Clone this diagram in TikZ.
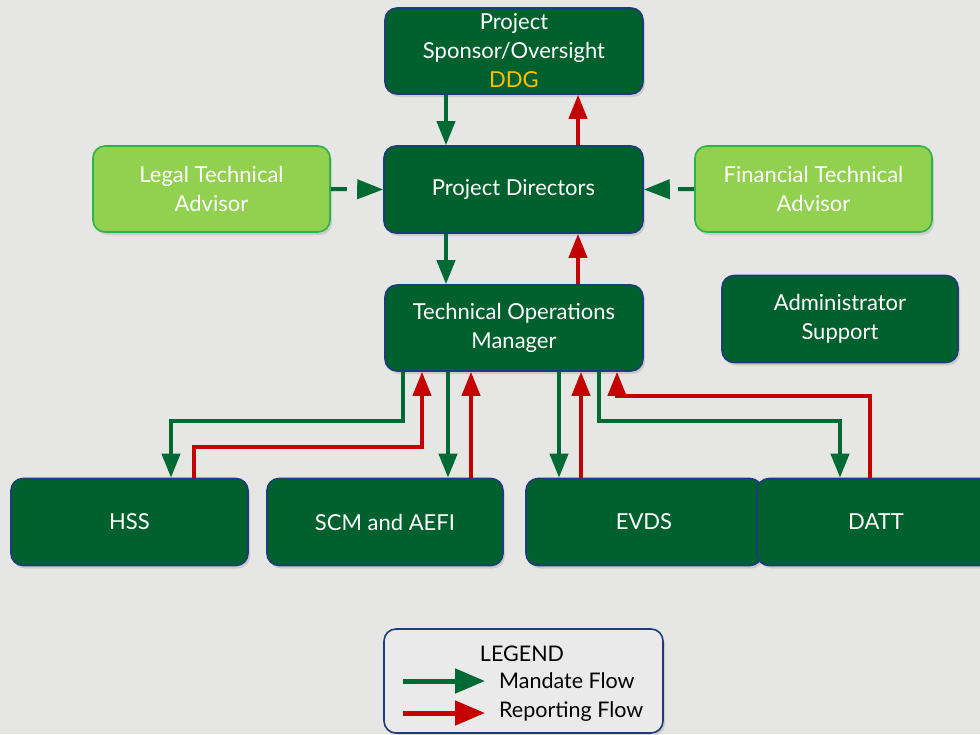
\documentclass[tikz,border=0pt]{standalone}
\usepackage{fontspec}
\setmainfont{Lato}
\usetikzlibrary{arrows.meta,shadows,calc}
\definecolor{bg}{HTML}{E6E6E5}
\definecolor{boxgreen}{HTML}{00612F}
\definecolor{boxborder}{HTML}{1F3C7A}
\definecolor{lightgreen}{HTML}{92D050}
\definecolor{lightborder}{HTML}{2DB34A}
\definecolor{mandate}{HTML}{006A35}
\definecolor{report}{HTML}{C40000}
\definecolor{ddg}{HTML}{FFC000}
\definecolor{legendfill}{HTML}{EAEAEA}
\tikzset{
  x=1pt, y=-1pt,
  basebox/.style={rounded corners=12pt, line width=1.6pt, inner sep=0pt, align=center,
    font=\fontsize{22}{29}\selectfont, text=white,
    drop shadow={opacity=0.25, shadow xshift=2pt, shadow yshift=-3pt}},
  darkbox/.style={basebox, draw=boxborder, fill=boxgreen},
  lightbox/.style={basebox, draw=lightborder, fill=lightgreen},
  mflow/.style={draw=mandate, line width=4pt, -{Triangle[length=24pt,width=18pt]}},
  rflow/.style={draw=report, line width=4pt, -{Triangle[length=24pt,width=18pt]}},
  dflow/.style={draw=mandate, line width=4pt, dash pattern=on 16pt off 40pt, -{Triangle[length=26pt,width=19pt]}},
  legtext/.style={font=\fontsize{21.5}{24}\selectfont, inner sep=0pt},
}
\begin{document}
\begin{tikzpicture}
\fill[bg] (0,0) rectangle (980,734);
\useasboundingbox (0,0) rectangle (980,734);

% boxes
\node[darkbox, minimum width=258pt, minimum height=86pt] (sp) at (514,51) {Project\\Sponsor/Oversight\\\textcolor{ddg}{DDG}};
\node[darkbox, minimum width=259pt, minimum height=87pt] (pd) at (513.5,189.5) {Project Directors};
\node[lightbox, minimum width=237pt, minimum height=86pt] (legal) at (211.5,189) {Legal Technical\\Advisor};
\node[lightbox, minimum width=237pt, minimum height=86pt] (fin) at (813.5,189) {Financial Technical\\Advisor};
\node[darkbox, minimum width=258pt, minimum height=86pt] (tom) at (514,328) {Technical Operations\\Manager};
\node[darkbox, minimum width=236pt, minimum height=87pt] (adm) at (840,319) {Administrator\\Support};
\node[darkbox, minimum width=237pt, minimum height=87pt] (hss) at (129.5,522) {HSS};
\node[darkbox, minimum width=236pt, minimum height=87pt] (scm) at (385,522) {SCM and AEFI};
\node[darkbox, minimum width=236pt, minimum height=87pt] (evds) at (644,522) {EVDS};
\node[darkbox, minimum width=238pt, minimum height=87pt] (datt) at (876,522) {DATT};

% column coordinates
\coordinate (c446) at (446,0);
\coordinate (c578) at (578,0);

% sponsor <-> directors
\draw[mflow] (sp.south -| c446) -- (pd.north -| c446);
\draw[rflow] (pd.north -| c578) -- (sp.south -| c578);
% directors <-> TOM
\draw[mflow] (pd.south -| c446) -- (tom.north -| c446);
\draw[rflow] (tom.north -| c578) -- (pd.south -| c578);
% advisors
\draw[dflow] (legal.east) -- (pd.west);
\draw[dflow] (fin.west) -- (pd.east);

% TOM -> HSS
\coordinate (g1) at (403,0);
\coordinate (g1b) at (171,0);
\draw[mflow] (tom.south -| g1) -- (403,421) -- (171,421) -- (hss.north -| g1b);
\coordinate (r1) at (194,0);
\coordinate (r1b) at (422,0);
\draw[rflow] (hss.north -| r1) -- (194,447) -- (422,447) -- (tom.south -| r1b);
% TOM -> SCM
\coordinate (g2) at (448,0);
\coordinate (r2) at (471,0);
\draw[mflow] (tom.south -| g2) -- (scm.north -| g2);
\draw[rflow] (scm.north -| r2) -- (tom.south -| r2);
% TOM -> EVDS
\coordinate (g3) at (559,0);
\coordinate (r3) at (581,0);
\draw[mflow] (tom.south -| g3) -- (evds.north -| g3);
\draw[rflow] (evds.north -| r3) -- (tom.south -| r3);
% TOM -> DATT
\coordinate (g4) at (599,0);
\coordinate (g4b) at (840,0);
\draw[mflow] (tom.south -| g4) -- (599,421) -- (840,421) -- (datt.north -| g4b);
\coordinate (r4) at (870,0);
\coordinate (r4b) at (617,0);
\draw[rflow] (datt.north -| r4) -- (870,396) -- (617,396) -- (tom.south -| r4b);

% legend
\node[rounded corners=12pt, line width=1.6pt, draw=boxborder, fill=legendfill, minimum width=279pt, minimum height=104pt, inner sep=0pt,
  drop shadow={opacity=0.25, shadow xshift=2pt, shadow yshift=-3pt}] (leg) at (523.5,681) {};
\node[legtext] (legt) at (522,654) {LEGEND};
\node[legtext, anchor=west] (lm) at (499,681) {Mandate Flow};
\node[legtext, anchor=west] (lr) at (499,712) {Reporting Flow};
\coordinate (lms) at (403,681);
\coordinate (lrs) at (403,713);
\draw[draw=mandate, line width=5pt, -{Triangle[length=30pt,width=24pt]}] (lms) -- ($(lm.west)+(-14,0)$);
\draw[draw=report, line width=5pt, -{Triangle[length=30pt,width=24pt]}] (lrs) -- ($(lr.west |- lrs)+(-14,0)$);
\end{tikzpicture}
\end{document}
